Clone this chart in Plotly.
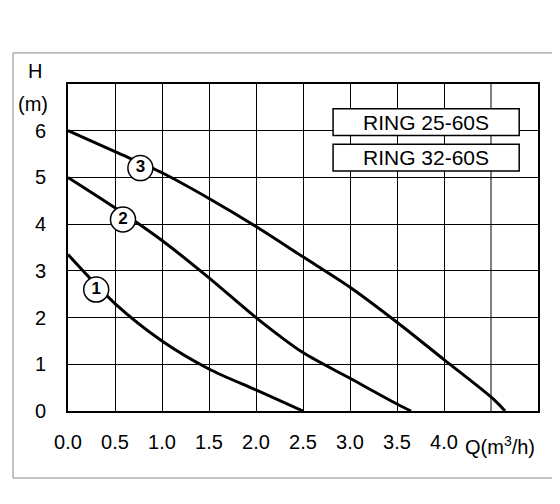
import plotly.graph_objects as go

q1 = [0, 0.5, 1.0, 1.5, 2.0, 2.5]
h1 = [3.35, 2.3, 1.5, 0.9, 0.45, 0.0]
q2 = [0, 0.5, 1.0, 1.5, 2.0, 2.5, 3.0, 3.5, 3.65]
h2 = [5.0, 4.35, 3.65, 2.85, 2.0, 1.25, 0.7, 0.15, 0.0]
q3 = [0, 0.5, 1.0, 1.5, 2.0, 2.5, 3.0, 3.5, 4.0, 4.5, 4.65]
h3 = [6.0, 5.55, 5.1, 4.55, 3.95, 3.3, 2.65, 1.9, 1.1, 0.3, 0.0]
curve_labels = ["1", "2", "3"]
label_pos = [(0.3, 2.6), (0.585, 4.1), (0.77, 5.2)]
x_ticks = [0.0, 0.5, 1.0, 1.5, 2.0, 2.5, 3.0, 3.5, 4.0]
y_ticks = [0, 1, 2, 3, 4, 5, 6]
models = ["RING 25-60S", "RING 32-60S"]

F = "Liberation Sans"
fig = go.Figure()
for q, h in [(q1, h1), (q2, h2), (q3, h3)]:
    fig.add_trace(go.Scatter(x=q, y=h, mode="lines", line=dict(color="black", width=3, shape="spline", smoothing=0.8), showlegend=False))
fig.add_trace(go.Scatter(x=[p[0] for p in label_pos], y=[p[1] for p in label_pos], mode="markers+text",
                         text=["<b>%s</b>" % c for c in curve_labels], textposition="middle center",
                         textfont=dict(size=17, color="black", family=F),
                         marker=dict(size=25, color="white", line=dict(color="black", width=1.5)), showlegend=False))

for i, m in enumerate(models):
    y1 = 6.47 - i * 0.76
    fig.add_shape(type="rect", x0=2.82, x1=4.8, y0=y1 - 0.57, y1=y1, fillcolor="white",
                  line=dict(color="black", width=1.5), layer="above")
    fig.add_annotation(x=3.81, y=y1 - 0.285, text=m, showarrow=False,
                       font=dict(size=21, color="black", family=F))

fig.add_shape(type="rect", xref="paper", yref="paper", x0=-0.117, x1=1.049, y0=-0.205, y1=1.095,
              line=dict(color="#888", width=1))
fig.add_annotation(xref="paper", yref="paper", x=-0.07, y=1.0, text="H", showarrow=False,
                   xanchor="center", yanchor="bottom", font=dict(size=20, color="black", family=F))
fig.add_annotation(xref="paper", yref="paper", x=-0.075, y=0.9, text="(m)", showarrow=False,
                   xanchor="center", yanchor="bottom", font=dict(size=20, color="black", family=F))
fig.add_annotation(xref="x", yref="paper", x=4.6, y=-0.06, text="Q(m<sup>3</sup>/h)", showarrow=False,
                   yanchor="top", font=dict(size=20, color="black", family=F))

fig.update_layout(
    width=560, height=504, margin=dict(l=60, r=30, t=76, b=101),
    paper_bgcolor="white", plot_bgcolor="white",
    font=dict(family=F, size=20, color="black"),
    xaxis=dict(range=[0, 5], tickvals=x_ticks, ticktext=[f"{v:.1f}" for v in x_ticks],
               tickfont=dict(size=20, family=F), ticklabelstandoff=12,
               showgrid=True, gridcolor="black", gridwidth=1,
               showline=True, linecolor="black", linewidth=2, mirror=True, zeroline=False, ticks=""),
    yaxis=dict(range=[0, 7], tickvals=y_ticks, tickfont=dict(size=20, family=F), ticklabelstandoff=16,
               showgrid=True, gridcolor="black", gridwidth=1,
               showline=True, linecolor="black", linewidth=2, mirror=True, zeroline=False, ticks=""),
)
fig.add_shape(type="line", x0=4.5, x1=4.5, y0=0, y1=7, line=dict(color="black", width=1), layer="below")
fig.write_html("out.html")
